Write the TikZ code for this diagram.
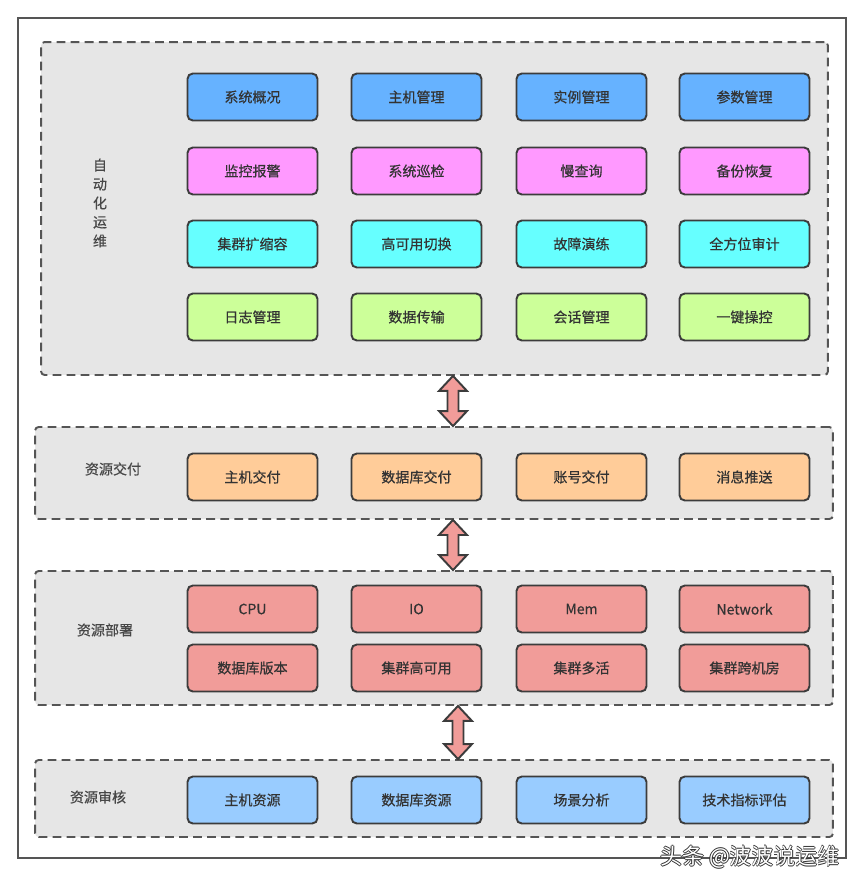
\documentclass[tikz,border=0pt]{standalone}
\usepackage{fontspec}
\setmainfont{Noto Sans CJK SC}[FakeBold=0.5]
\newfontfamily\markfont{Noto Sans CJK SC}
\usepackage{tikz}
\usetikzlibrary{calc}

\definecolor{grpfill}{HTML}{E6E6E6}
\definecolor{lineg}{HTML}{555555}
\definecolor{boxline}{HTML}{3C3C3C}
\definecolor{txt}{HTML}{333333}
\definecolor{cblue}{HTML}{66B2FF}
\definecolor{cpink}{HTML}{FF99FF}
\definecolor{ccyan}{HTML}{66FFFF}
\definecolor{cgreen}{HTML}{CCFF99}
\definecolor{corange}{HTML}{FFCC99}
\definecolor{cred}{HTML}{F19C99}
\definecolor{clblue}{HTML}{99CCFF}

\newcommand{\bigarrow}[2]{%
\draw[arr] (#1) -- ($(#1)+(14,15)$) -- ($(#1)+(5.5,15)$) -- ($(#2)+(5.5,-15)$)
  -- ($(#2)+(14,-15)$) -- (#2) -- ($(#2)+(-14,-15)$) -- ($(#2)+(-5.5,-15)$)
  -- ($(#1)+(-5.5,15)$) -- ($(#1)+(-14,15)$) -- cycle;}

\begin{document}
\begin{tikzpicture}[x=0.02cm,y=-0.02cm,
  font=\fontsize{8}{10.8}\selectfont,
  grp/.style={draw=lineg,fill=grpfill,line width=1.1pt,dash pattern=on 5pt off 3pt,rounded corners=2pt},
  box/.style={draw=boxline,line width=1.1pt,rounded corners=3pt,text=txt,minimum width=2.6cm,minimum height=0.94cm},
  lbl/.style={text=txt!90,align=center},
  arr/.style={draw=boxline,fill=cred,line width=1.1pt,line join=miter},
  wm/.style={font=\fontsize{12.5}{14}\selectfont\markfont,anchor=east}]
\useasboundingbox (0,0) rectangle (865,887);
\draw[lineg,line width=0.9pt] (18,18) rectangle (846,858);

\node[grp,minimum width=15.74cm,minimum height=6.66cm] (auto) at (434.5,208.5) {};
\node[grp,minimum width=15.96cm,minimum height=1.84cm] (deliver) at (434,473) {};
\node[grp,minimum width=15.96cm,minimum height=2.68cm] (deploy) at (434,638) {};
\node[grp,minimum width=15.96cm,minimum height=1.54cm] (audit) at (434,798.5) {};

\node[lbl] (lauto) at (100,203) {自\\动\\化\\运\\维};
\node[lbl] (ldeliver) at (113,469) {资源交付};
\node[lbl] (ldeploy) at (105,630) {资源部署};
\node[lbl] (laudit) at (98,797) {资源审核};

\node[box,fill=cblue] (gaikuang) at (252.5,97) {系统概况};
\node[box,fill=cblue] (zhuji) at (416.5,97) {主机管理};
\node[box,fill=cblue] (shili) at (581.5,97) {实例管理};
\node[box,fill=cblue] (canshu) at (744.5,97) {参数管理};

\node[box,fill=cpink] (jiankong) at (252.5,171) {监控报警};
\node[box,fill=cpink] (xunjian) at (416.5,171) {系统巡检};
\node[box,fill=cpink] (manchaxun) at (581.5,171) {慢查询};
\node[box,fill=cpink] (beifen) at (744.5,171) {备份恢复};

\node[box,fill=ccyan] (kuosuo) at (252.5,244) {集群扩缩容};
\node[box,fill=ccyan] (qiehuan) at (416.5,244) {高可用切换};
\node[box,fill=ccyan] (yanlian) at (581.5,244) {故障演练};
\node[box,fill=ccyan] (shenji) at (744.5,244) {全方位审计};

\node[box,fill=cgreen] (rizhi) at (252.5,317) {日志管理};
\node[box,fill=cgreen] (chuanshu) at (416.5,317) {数据传输};
\node[box,fill=cgreen] (huihua) at (581.5,317) {会话管理};
\node[box,fill=cgreen] (yijian) at (744.5,317) {一键操控};

\node[box,fill=corange] (zjjf) at (252.5,477) {主机交付};
\node[box,fill=corange] (sjkjf) at (416.5,477) {数据库交付};
\node[box,fill=corange] (zhjf) at (581.5,477) {账号交付};
\node[box,fill=corange] (tuisong) at (744.5,477) {消息推送};

\node[box,fill=cred] (cpu) at (252.5,609) {CPU};
\node[box,fill=cred] (io) at (416.5,609) {IO};
\node[box,fill=cred] (mem) at (581.5,609) {Mem};
\node[box,fill=cred] (net) at (744.5,609) {Network};
\node[box,fill=cred] (banben) at (252.5,668) {数据库版本};
\node[box,fill=cred] (gaokeyong) at (416.5,668) {集群高可用};
\node[box,fill=cred] (duohuo) at (581.5,668) {集群多活};
\node[box,fill=cred] (kuajifang) at (744.5,668) {集群跨机房};

\node[box,fill=clblue] (zjzy) at (252.5,800) {主机资源};
\node[box,fill=clblue] (sjkzy) at (416.5,800) {数据库资源};
\node[box,fill=clblue] (changjing) at (581.5,800) {场景分析};
\node[box,fill=clblue] (pinggu) at (744.5,800) {技术指标评估};

\coordinate (xa) at (453,0);
\coordinate (xb) at (458,0);
\coordinate (a1t) at (auto.south -| xa);
\coordinate (a1b) at (deliver.north -| xa);
\coordinate (a2t) at (deliver.south -| xa);
\coordinate (a2b) at (deploy.north -| xa);
\coordinate (a3t) at (deploy.south -| xb);
\coordinate (a3b) at (audit.north -| xb);
\bigarrow{a1t}{a1b}
\bigarrow{a2t}{a2b}
\bigarrow{a3t}{a3b}

\foreach \dx/\dy in {-0.8/0,0.8/0,0/-0.8,0/0.8}
  \node[wm,text=black!80] at ($(846,857)+(\dx,\dy)$) {头条 @波波说运维};
\node[wm,text=white] (mark) at (846,857) {头条 @波波说运维};
\end{tikzpicture}
\end{document}
